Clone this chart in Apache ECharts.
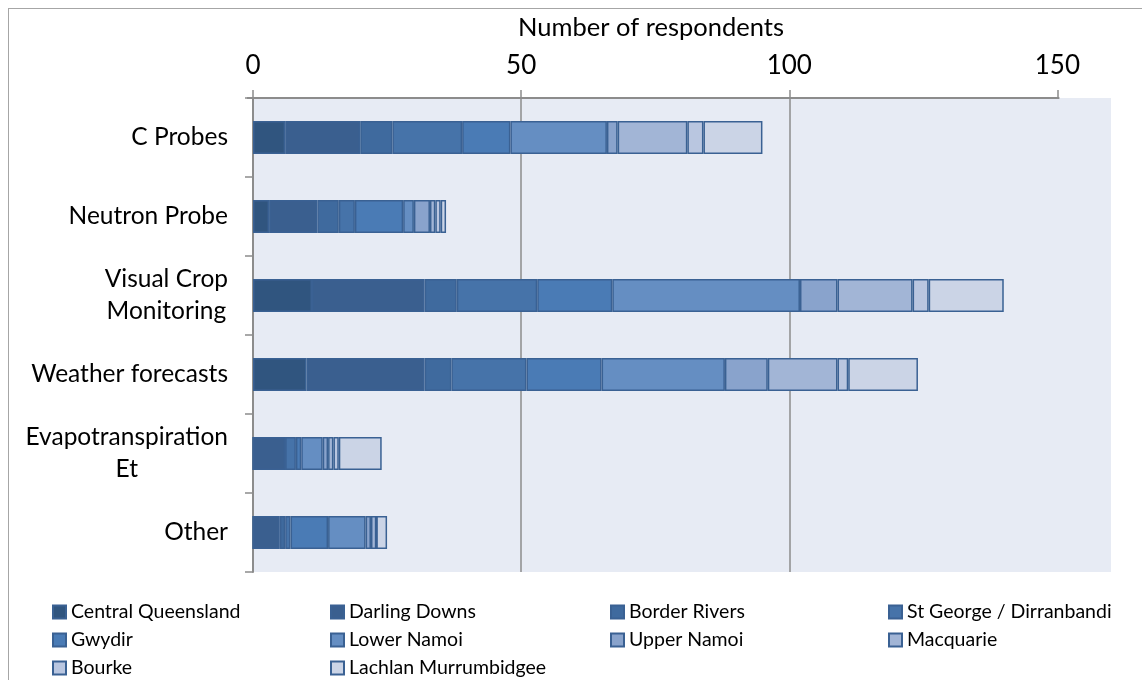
<!DOCTYPE html>
<html>
<head>
<meta charset="utf-8">
<script src="https://cdn.jsdelivr.net/npm/echarts@6/dist/echarts.min.js"></script>
<style>
  html, body { margin: 0; padding: 0; background: #fff; }
  #frame { position: absolute; left: 8px; top: 8px; width: 1160px; height: 700px; border: 1px solid #a6a6a6; }
  #chart { position: absolute; left: 0; top: 0; width: 1142px; height: 680px; }
</style>
</head>
<body>
<div id="frame"></div>
<div id="chart"></div>
<script>
// Monitoring tools used, by region
const categories = ['C Probes', 'Neutron Probe', 'Visual Crop\nMonitoring', 'Weather forecasts', 'Evapotranspiration\nEt', 'Other'];

const centralQueensland   = [6, 3, 11, 10, 0, 0];
const darlingDowns        = [14, 9, 21, 22, 6, 5];
const borderRivers        = [6, 4, 6, 5, 0, 1];
const stGeorgeDirranbandi = [13, 3, 15, 14, 2, 1];
const gwydir              = [9, 9, 14, 14, 1, 7];
const lowerNamoi          = [18, 2, 35, 23, 4, 7];
const upperNamoi          = [2, 3, 7, 8, 1, 1];
const macquarie           = [13, 1, 14, 13, 1, 1];
const bourke              = [3, 1, 3, 2, 1, 0];
const lachlanMurrumbidgee = [11, 1, 14, 13, 8, 2];

const xTicks = [0, 50, 100, 150];

const seriesDefs = [
  { name: 'Central Queensland', data: centralQueensland, color: '#30557f' },
  { name: 'Darling Downs', data: darlingDowns, color: '#3a5f8f' },
  { name: 'Border Rivers', data: borderRivers, color: '#3f6a9e' },
  { name: 'St George / Dirranbandi', data: stGeorgeDirranbandi, color: '#4673a9' },
  { name: 'Gwydir', data: gwydir, color: '#4a7bb5' },
  { name: 'Lower Namoi', data: lowerNamoi, color: '#658ec2' },
  { name: 'Upper Namoi', data: upperNamoi, color: '#89a3cc' },
  { name: 'Macquarie', data: macquarie, color: '#a2b5d6' },
  { name: 'Bourke', data: bourke, color: '#b9c6e0' },
  { name: 'Lachlan Murrumbidgee', data: lachlanMurrumbidgee, color: '#cbd4e6' }
];

const FONT = 'Lato';
const chart = echarts.init(document.getElementById('chart'), null, { renderer: 'canvas' });

const legendColumns = [
  { left: 47, names: ['Central Queensland', 'Gwydir', 'Bourke'] },
  { left: 325, names: ['Darling Downs', 'Lower Namoi', 'Lachlan Murrumbidgee'] },
  { left: 605, names: ['Border Rivers', 'Upper Namoi'] },
  { left: 883, names: ['St George / Dirranbandi', 'Macquarie'] }
];

const GRID_TOP = 98;

const option = {
  animation: false,
  backgroundColor: 'transparent',
  grid: { left: 253, right: 31, top: GRID_TOP, bottom: 108, backgroundColor: '#e7ebf4', show: true, borderWidth: 0 },
  xAxis: {
    type: 'value',
    position: 'top',
    min: 0,
    max: 160,
    interval: 50,
    name: 'Number of respondents',
    nameLocation: 'middle',
    nameGap: 57,
    nameTextStyle: { fontFamily: FONT, fontSize: 25.5, color: '#000', padding: [0, 62, 0, 0] },
    axisLine: { show: false },
    axisTick: { show: true, customValues: xTicks, length: 8, inside: false, lineStyle: { color: '#8c8c8c', width: 1.5 } },
    axisLabel: { customValues: xTicks, fontFamily: FONT, fontSize: 26, color: '#000', margin: 19 },
    splitLine: { show: true, showMinLine: false, showMaxLine: false, lineStyle: { color: '#8c8c8c', width: 1.5 } }
  },
  yAxis: {
    type: 'category',
    inverse: true,
    data: categories,
    axisLine: { show: true, lineStyle: { color: '#8c8c8c', width: 2 } },
    axisTick: { show: true, length: 8, lineStyle: { color: '#8c8c8c', width: 1.5 } },
    axisLabel: {
      margin: 25,
      color: '#000',
      fontFamily: FONT,
      fontSize: 24.5,
      lineHeight: 32,
      formatter: v => v.split('\n').map(l => '{c|' + l + '}').join('\n'),
      rich: { c: { align: 'center', fontFamily: FONT, fontSize: 24.5, lineHeight: 32, color: '#000' } }
    }
  },
  legend: legendColumns.map(col => ({
    orient: 'vertical',
    left: col.left,
    top: 597,
    height: 110,
    itemWidth: 13,
    itemHeight: 13,
    itemGap: 8,
    icon: 'rect',
    data: col.names,
    textStyle: { fontFamily: FONT, fontSize: 19.5, lineHeight: 20, color: '#000' }
  })),
  series: seriesDefs.map(s => ({
    name: s.name,
    type: 'bar',
    stack: 'total',
    barWidth: 33,
    data: s.data,
    itemStyle: { color: s.color, borderColor: '#3a6193', borderWidth: 1.5 },
    emphasis: { disabled: true }
  }))
};

chart.setOption(option);

// top axis line spans only the labelled range
const p0 = chart.convertToPixel({ xAxisIndex: 0 }, xTicks[0]);
const p1 = chart.convertToPixel({ xAxisIndex: 0 }, xTicks[xTicks.length - 1]);
chart.setOption({
  graphic: [{
    type: 'line',
    shape: { x1: p0 - 6, y1: GRID_TOP, x2: p1 + 2, y2: GRID_TOP },
    style: { stroke: '#8c8c8c', lineWidth: 2 },
    z: 100
  }]
});
</script>
</body>
</html>
